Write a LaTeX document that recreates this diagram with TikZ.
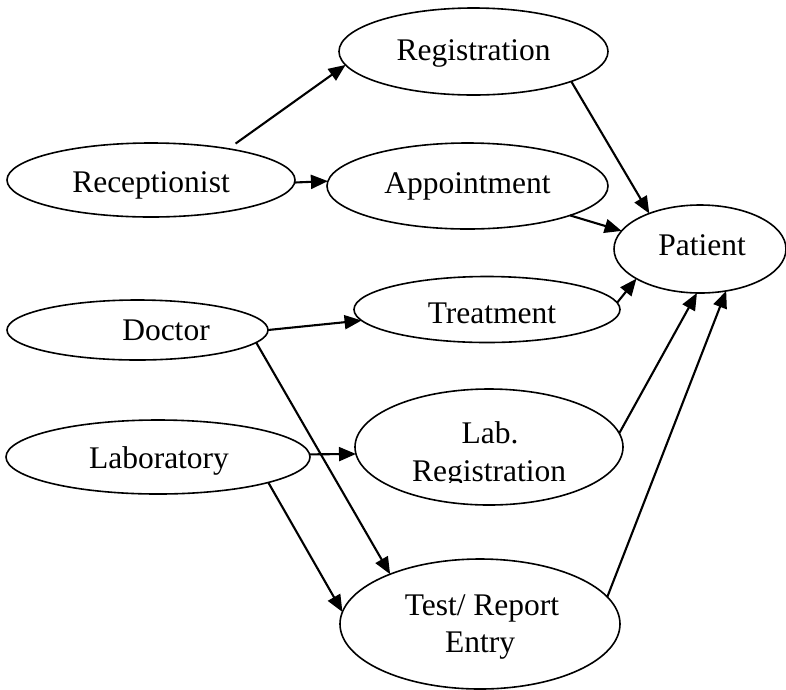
\documentclass[tikz,border=0pt]{standalone}
\usepackage{fontspec}
\setmainfont{Liberation Serif}
\usetikzlibrary{shapes.geometric,arrows.meta}
\tikzset{
  ell/.style={draw, ellipse, line width=1.6pt, inner sep=0pt, outer sep=0pt},
  lbl/.style={anchor=base, inner sep=0pt, font=\fontsize{31.5}{36}\selectfont},
  arr/.style={-{Triangle[length=17pt,width=14pt]}, line width=2.1pt}
}
\begin{document}
\begin{tikzpicture}[x=1pt,y=-1pt]
\useasboundingbox (0,0) rectangle (786,689);
% ellipses
\node[ell, minimum width=269pt, minimum height=87pt] (reg) at (473.5,51.5) {};
\node[ell, minimum width=288pt, minimum height=74pt] (rec) at (151,180) {};
\node[ell, minimum width=281pt, minimum height=86pt] (app) at (467.5,186) {};
\node[ell, minimum width=172pt, minimum height=88pt] (pat) at (700,249) {};
\node[ell, minimum width=266pt, minimum height=66pt] (tre) at (487,309.5) {};
\node[ell, minimum width=261pt, minimum height=60pt] (doc) at (137.5,330) {};
\node[ell, minimum width=304pt, minimum height=74pt] (lab) at (158,457) {};
\node[ell, minimum width=268pt, minimum height=116pt] (lr) at (489,447) {};
\node[ell, minimum width=280pt, minimum height=130pt] (tr) at (480,624) {};
% texts
\node[lbl] (regt) at (473.5,60) {Registration};
\node[lbl] (rect) at (151,192) {Receptionist};
\node[lbl] (appt) at (467.5,193) {Appointment};
\node[lbl] (patt) at (702,255) {Patient};
\node[lbl] (tret) at (492,323) {Treatment};
\node[lbl] (doct) at (166,340) {Doctor};
\node[lbl] (labt) at (159,468) {Laboratory};
\node[lbl] (lrta) at (490,443) {Lab.};
\begin{scope}
  \clip (300,380) rectangle (640,482);
  \node[lbl] (lrtb) at (489,481) {Registration};
\end{scope}
\node[lbl] (trta) at (482,615) {Test/ Report};
\node[lbl] (trtb) at (480,652) {Entry};
% connectors
\draw[arr, shorten <=9pt] (rec.22) -- (reg.186);
\draw[arr] (rec.-1) -- (app.178);
\draw[arr] (reg.-17.6) -- (pat.145);
\draw[arr] (app.-16) -- (pat.167);
\draw[arr] (tre.3.4) -- (pat.205);
\draw[arr] (lr.6) -- (pat.-94);
\draw[arr] (tr.12) -- (pat.-58);
\draw[arr] (doc.east) -- (tre.185);
\draw[arr] (doc.-6.4) -- (tr.151);
\draw[arr] (lab.1) -- (lr.183);
\draw[arr] (lab.-13.3) -- (tr.175);
\end{tikzpicture}
\end{document}
